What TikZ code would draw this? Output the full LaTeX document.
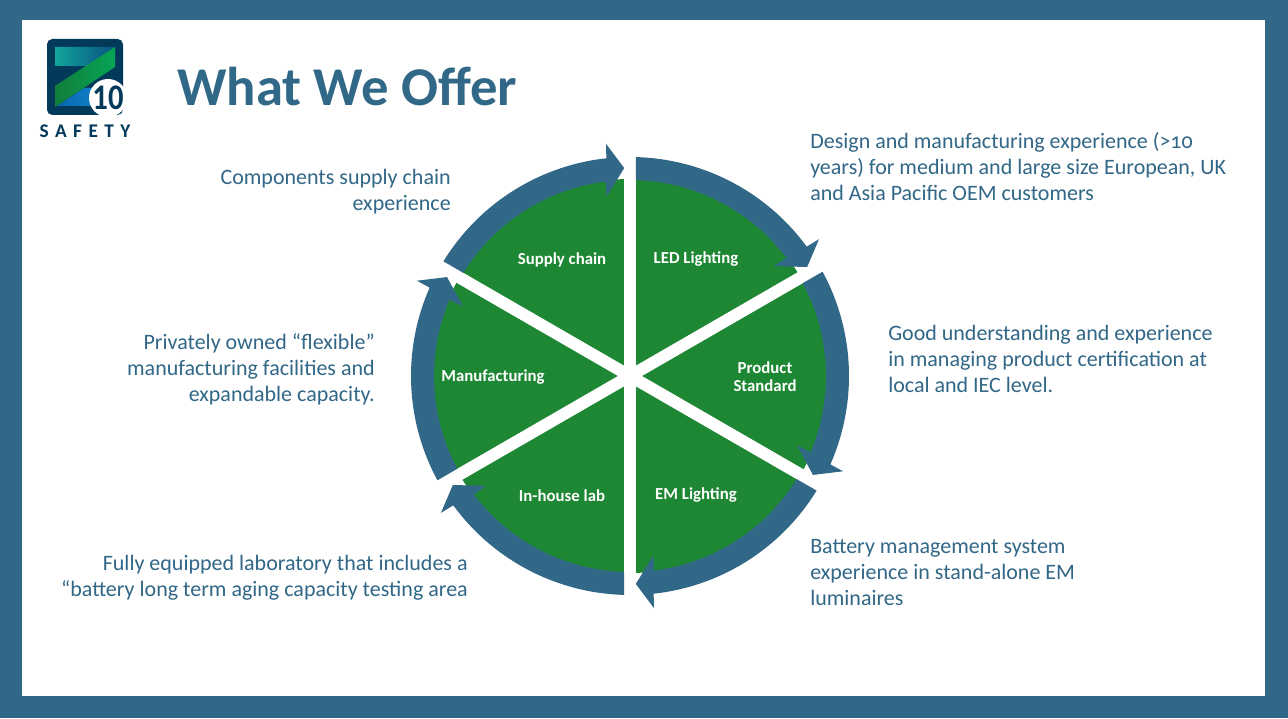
\documentclass[tikz,border=0pt]{standalone}
\usepackage{fontspec}
\setmainfont[Numbers=OldStyle]{Carlito}
\usepackage{xcolor}
\definecolor{frameblue}{RGB}{49,103,135}
\definecolor{sectorgrn}{RGB}{30,135,52}
\definecolor{logoink}{RGB}{3,58,90}
\tikzset{
  note/.style={text=frameblue,inner sep=0pt,font=\fontsize{16.5}{19.5}\selectfont},
  noteL/.style={note,anchor=west,align=left},
  noteR/.style={note,anchor=east,align=right},
  sector/.style={text=white,inner sep=0pt,align=center,font=\fontsize{12.6}{13.5}\selectfont\bfseries},
  ringarrow/.style={fill=frameblue},
}
\begin{document}
\begin{tikzpicture}[x=0.75pt,y=0.75pt]
  \useasboundingbox (0,0) rectangle (1288,718);
  \fill[frameblue] (0,0) rectangle (1288,718);
  \fill[white] (22,22) rectangle (1265,698);
  % logo
  \fill[logoink,rounded corners=4pt] (47,679) rectangle (123,603);
  \shade[left color={rgb,255:red,18;green,165;blue,155},right color={rgb,255:red,10;green,80;blue,130}] (55,671) -- (115,671) -- (87,652) -- (55,652) -- cycle;
  \shade[left color={rgb,255:red,10;green,105;blue,175},right color={rgb,255:red,15;green,130;blue,200}] (84,630) -- (100,630) -- (100,612) -- (57,612) -- cycle;
  \shade[left color={rgb,255:red,18;green,125;blue,60},right color={rgb,255:red,5;green,165;blue,85}] (115,671) -- (115,651) -- (55,611) -- (55,632) -- cycle;
  \fill[white] (108,620) circle (19);
  \node[inner sep=0pt,text=logoink,xscale=0.85,font=\fontsize{27}{27}\selectfont\bfseries] (ten) at (108,620) {\addfontfeature{Numbers=Lining}10};
  \node[inner sep=0pt,text=logoink,font=\fontsize{14.5}{14.5}\selectfont\bfseries] (safety) at (85,587) {S\,\,A\,\,F\,\,E\,\,T\,\,Y};
  \node[anchor=west,inner sep=0pt,text=frameblue,font=\fontsize{41}{41}\selectfont\bfseries] (title) at (177,632) {What We Offer};
  % wheel
  \begin{scope}[shift={(630,342)}]
    \fill[sectorgrn] (0,0) circle (197);
    \foreach \ang in {90,30,-30}
      \draw[white,line width=9pt] (\ang:200) -- (\ang+180:200);
    \foreach \ang in {0,-60,...,-300}
      \fill[ringarrow,rotate=\ang] (88.44:219) arc[start angle=88.44,end angle=36.2,radius=219]
        -- (35.9:233.4) -- (31.6:208) -- (37.4:181) -- (37.1:196)
        arc[start angle=37.1,end angle=88.25,radius=196] -- cycle;
  \end{scope}
  \node[sector] (led) at (696,458.5) {LED Lighting};
  \node[sector] (std) at (765,341) {Product\\Standard};
  \node[sector] (em) at (696,222.5) {EM Lighting};
  \node[sector] (lab) at (562,222.5) {In-house lab};
  \node[sector] (mfg) at (493,340.5) {Manufacturing};
  \node[sector] (sup) at (562,458.5) {Supply chain};
  % notes
  \node[noteL] (n1) at (810,551) {Design and manufacturing experience (>10\\years) for medium and large size European, UK\\and Asia Pacific OEM customers};
  \node[noteL] (n2) at (888,359) {Good understanding and experience\\in managing product certification at\\local and IEC level.};
  \node[noteL] (n3) at (810,145) {Battery management system\\experience in stand-alone EM\\luminaires};
  \node[noteR] (n4) at (468,140) {Fully equipped laboratory that includes a\\“battery long term aging capacity testing area};
  \node[noteR] (n5) at (375,349) {Privately owned “flexible”\\manufacturing facilities and\\expandable capacity.};
  \node[noteR] (n6) at (451,526) {Components supply chain\\experience};
\end{tikzpicture}
\end{document}
